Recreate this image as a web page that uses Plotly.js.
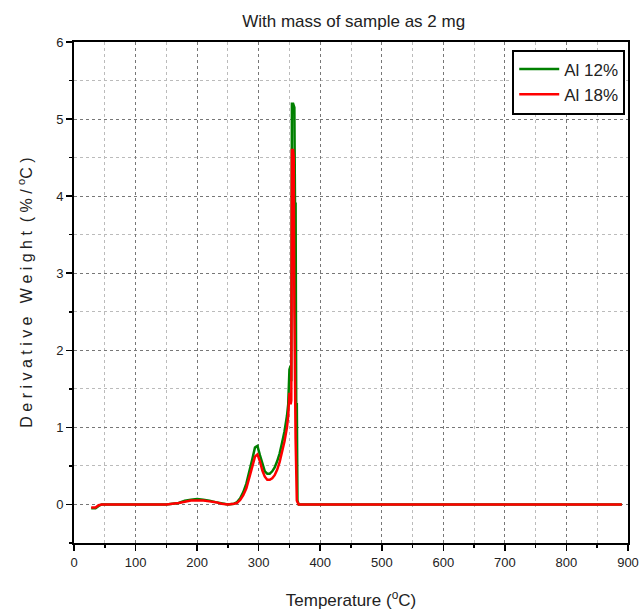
<!DOCTYPE html>
<html>
<head>
<meta charset="utf-8">
<script src="https://cdn.plot.ly/plotly-3.0.1.min.js"></script>
<style>html,body{margin:0;padding:0;background:#fff;}#chart{width:643px;height:614px;}</style>
</head>
<body>
<div id="chart"></div>
<script>
const seriesNames = ["Al 12%", "Al 18%"];
const al12Temp = [28,35,40,45,60,100,150,170,180,190,200,210,220,230,240,250,260,265,270,275,280,285,290,294,298,302,306,310,314,318,322,326,330,334,338,342,346,348,350,352,353,354,356,358,359,360,361,362,363,365,370,400,500,600,700,800,890];
const al12Deriv = [-0.05,-0.05,-0.02,0,0,0,0,0.02,0.05,0.06,0.07,0.06,0.05,0.03,0.01,0,0.01,0.03,0.08,0.16,0.27,0.42,0.6,0.74,0.76,0.64,0.52,0.43,0.40,0.40,0.43,0.48,0.56,0.66,0.8,0.95,1.15,1.3,1.75,1.8,1.6,5.2,5.2,5.15,3.9,3.9,1.3,1.3,0.05,0,0,0,0,0,0,0,0];
const al18Temp = [28,35,40,45,60,100,150,170,180,190,200,210,220,230,240,250,260,265,270,275,280,285,290,294,298,302,306,310,314,318,322,326,330,334,338,342,346,348,350,352,353,354,356,357,358,359,360,362,365,370,400,500,600,700,800,890];
const al18Deriv = [-0.04,-0.04,-0.01,0,0,0,0,0.02,0.04,0.05,0.05,0.05,0.04,0.03,0.01,0,0.01,0.02,0.06,0.12,0.21,0.34,0.5,0.62,0.65,0.56,0.44,0.36,0.32,0.32,0.34,0.38,0.45,0.55,0.68,0.82,1.0,1.15,1.45,1.3,1.35,4.6,4.6,4.5,2.5,0.85,0.85,0.05,0,0,0,0,0,0,0,0];

const FONT = "'Liberation Sans Narrow', 'Arial Narrow', 'Liberation Sans', Arial, sans-serif";

const traces = [
  {x: al12Temp, y: al12Deriv, name: seriesNames[0], type: 'scatter', mode: 'lines', line: {color: '#008000', width: 2.5}},
  {x: al18Temp, y: al18Deriv, name: seriesNames[1], type: 'scatter', mode: 'lines', line: {color: '#ff0000', width: 2.5}}
];

const axisCommon = {
  showline: true, linecolor: '#000', linewidth: 2, mirror: true,
  ticks: 'outside', ticklen: 6, tickwidth: 1.5, tickcolor: '#000',
  showgrid: true, gridcolor: '#777', griddash: 'dot', gridwidth: 1,
  zeroline: false,
  tickfont: {family: FONT, size: 13, color: '#222'}
};

const layout = {
  width: 643, height: 614,
  margin: {l: 74, r: 15, t: 42, b: 71},
  paper_bgcolor: '#fff', plot_bgcolor: '#fff',
  title: {text: 'With mass of sample as 2 mg', font: {family: FONT, size: 17, color: '#222'}, x: 0.55, xanchor: 'center', y: 0.975, yanchor: 'top'},
  xaxis: Object.assign({}, axisCommon, {
    range: [0, 900], dtick: 100, tick0: 0,
    minor: {dtick: 50, ticks: 'outside', ticklen: 3, tickcolor: '#000', showgrid: true, gridcolor: '#bbb', griddash: 'dot', gridwidth: 1},
    title: {text: 'Temperature (<sup>o</sup>C)', font: {family: FONT, size: 17, color: '#222'}, standoff: 26}
  }),
  yaxis: Object.assign({}, axisCommon, {
    range: [-0.5, 6], dtick: 1, tick0: 0,
    minor: {dtick: 0.5, ticks: 'outside', ticklen: 3, tickcolor: '#000', showgrid: true, gridcolor: '#bbb', griddash: 'dot', gridwidth: 1},
    title: {text: 'D e r i v a t i v e   W e i g h t  ( % / <sup>o</sup>C )', font: {family: FONT, size: 16, color: '#222'}, standoff: 20}
  }),
  legend: {
    x: 0.995, y: 0.985, xanchor: 'right', yanchor: 'top',
    bgcolor: '#fff', bordercolor: '#000', borderwidth: 2,
    font: {family: FONT, size: 17, color: '#222'},
    itemwidth: 40, tracegroupgap: 0
  },
  showlegend: true
};

Plotly.newPlot('chart', traces, layout, {displayModeBar: false, staticPlot: true});
</script>
</body>
</html>
